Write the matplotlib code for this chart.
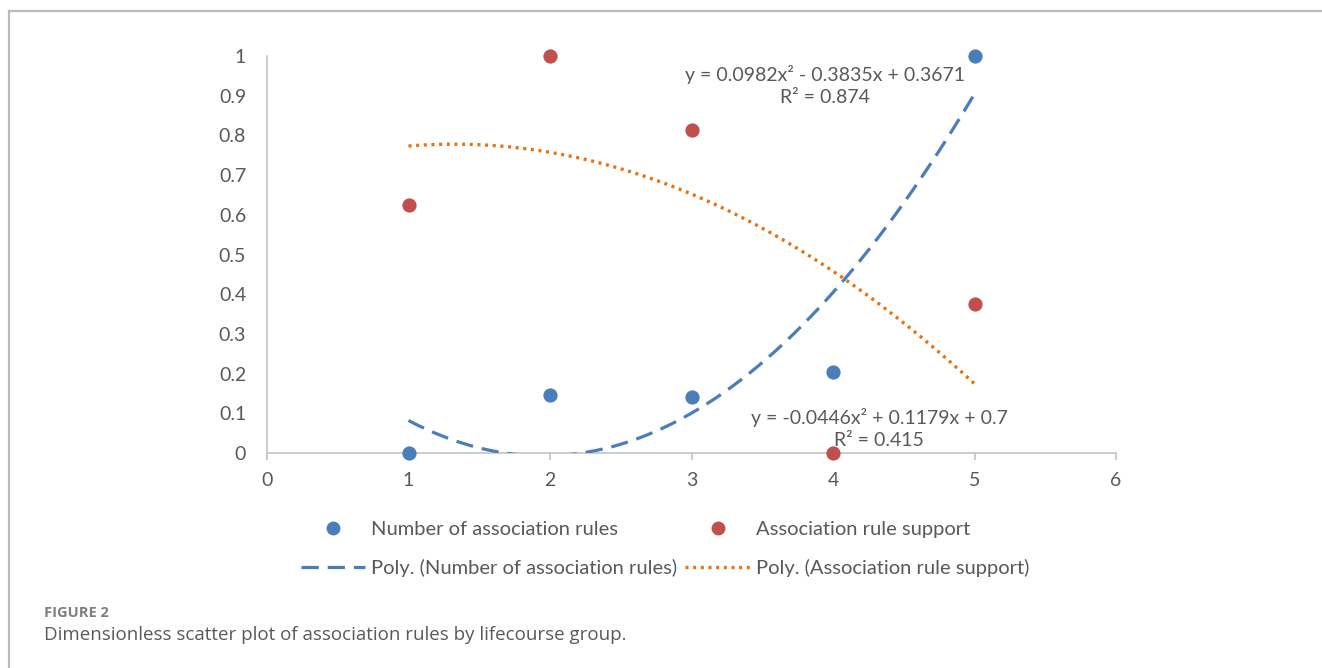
import numpy as np
import matplotlib
matplotlib.use("Agg")
import matplotlib.pyplot as plt
from matplotlib.lines import Line2D

# ---- data ----
groups = [1, 2, 3, 4, 5]
num_rules = [0.0, 0.146, 0.141, 0.204, 1.0]
rule_support = [0.625, 1.0, 0.8125, 0.0, 0.375]
poly_num_coef = [0.0982, -0.3835, 0.3671]
poly_sup_coef = [-0.0446, 0.1179, 0.7]
r2_num = 0.874
r2_sup = 0.415
x_ticks = [0, 1, 2, 3, 4, 5, 6]
y_ticks = [0, 0.1, 0.2, 0.3, 0.4, 0.5, 0.6, 0.7, 0.8, 0.9, 1]
y_tick_labels = ["0", "0.1", "0.2", "0.3", "0.4", "0.5", "0.6", "0.7", "0.8", "0.9", "1"]
series_names = ["Number of association rules", "Association rule support"]
caption_label = "FIGURE 2"
caption_text = "Dimensionless scatter plot of association rules by lifecourse group."

BLUE = "#4A7EBB"
RED = "#C0504D"
ORANGE = "#E8720C"
TXT = "#595959"
FONT = ["Lato", "DejaVu Sans"]

plt.rcParams["font.family"] = FONT

W, H = 1322, 668
fig = plt.figure(figsize=(W / 100, H / 100), dpi=100)

def fx(px):
    return px / W

def fy(py):
    return 1 - py / H

ax = fig.add_axes([fx(267), fy(453), fx(1116) - fx(267), fy(56) - fy(453)])
ax.set_xlim(0, 6)
ax.set_ylim(0, 1)

DASH = (5.4, 2.8)
DOT = (0, (0.9, 1.4))

xs = np.linspace(groups[0], groups[-1], 200)
ax.plot(xs, np.polyval(poly_num_coef, xs), color=BLUE, lw=2.3,
        dashes=DASH, dash_capstyle="butt", zorder=3)
ax.plot(xs, np.polyval(poly_sup_coef, xs), color=ORANGE, lw=2.4,
        linestyle=DOT, zorder=3)
ax.scatter(groups, num_rules, s=105, color=BLUE, zorder=4, clip_on=False, linewidths=0)
ax.scatter(groups, rule_support, s=105, color=RED, zorder=4, clip_on=False, linewidths=0)

for s in ["top", "right"]:
    ax.spines[s].set_visible(False)
for s in ["left", "bottom"]:
    ax.spines[s].set_color("#BFBFBF")
    ax.spines[s].set_linewidth(1.1)

ax.set_xticks(x_ticks)
ax.set_xticklabels([str(t) for t in x_ticks])
ax.set_yticks(y_ticks)
ax.set_yticklabels(y_tick_labels)
ax.tick_params(axis="y", length=0, pad=15, labelsize=14, labelcolor=TXT)
ax.tick_params(axis="x", length=5, width=1.1, color="#BFBFBF", direction="out",
               pad=9, labelsize=14, labelcolor=TXT)

def fmt_eq(c):
    a, b, k = c
    def term(v):
        return (" + " if v >= 0 else " - ") + f"{abs(v):g}"
    return f"y = {a:g}x\u00b2" + term(b) + "x" + term(k)

ax.text(3.94, 0.926, fmt_eq(poly_num_coef) + f"\nR\u00b2 = {r2_num:g}", ha="center",
        va="center", fontsize=14, color=TXT, linespacing=1.4, zorder=5)
ax.text(4.325, 0.0617, fmt_eq(poly_sup_coef) + f"\nR\u00b2 = {r2_sup:g}", ha="center",
        va="center", fontsize=14, color=TXT, linespacing=1.4, zorder=5)

handles = [
    Line2D([], [], ls="none", marker="o", ms=10, color=BLUE, mew=0),
    Line2D([], [], color=BLUE, lw=2.3, dashes=DASH),
    Line2D([], [], ls="none", marker="o", ms=10, color=RED, mew=0),
    Line2D([], [], color=ORANGE, lw=2.4, linestyle=DOT),
]
labels = [series_names[0], f"Poly. ({series_names[0]})",
          series_names[1], f"Poly. ({series_names[1]})"]
leg = fig.legend(handles, labels, ncol=2, loc="center",
                 bbox_to_anchor=(fx(665), fy(549)), frameon=False, fontsize=14.5,
                 handlelength=3.2, handletextpad=0.3, columnspacing=0.4,
                 labelspacing=1.05, borderpad=0)
for t in leg.get_texts():
    t.set_color(TXT)

# frame lines
fig.add_artist(Line2D([fx(9), 1], [fy(11), fy(11)], color="#BBBBBB", lw=1.6))
fig.add_artist(Line2D([fx(9), fx(9)], [fy(11), 0], color="#BBBBBB", lw=1.6))

fig.text(fx(44), fy(613), caption_label, fontsize=10.5, color="#7F7F7F",
         fontweight="bold", va="center", ha="left", family=["Open Sans", "DejaVu Sans"])
fig.text(fx(44), fy(635), caption_text, fontsize=13.5, color=TXT,
         va="center", ha="left", family=["Open Sans", "DejaVu Sans"])

fig.savefig("out.png", dpi=100, facecolor="white")
